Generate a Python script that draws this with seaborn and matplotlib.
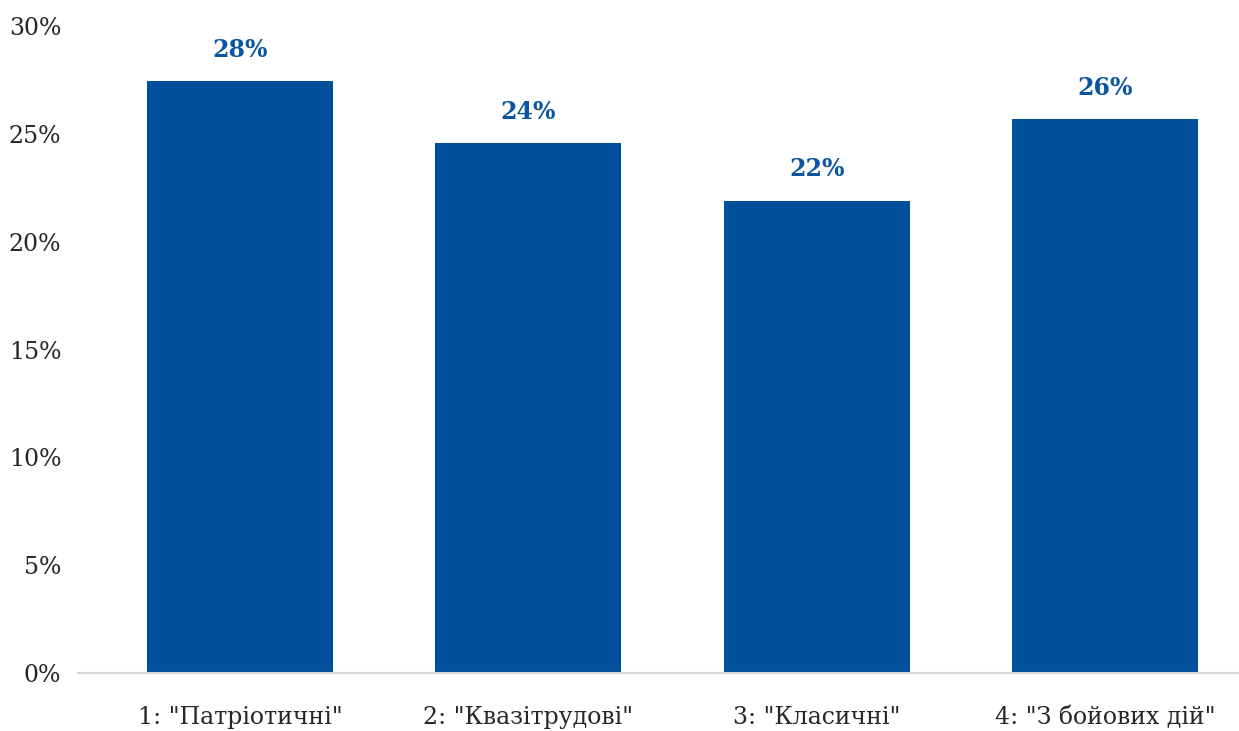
import matplotlib
matplotlib.use("Agg")
import matplotlib.pyplot as plt
import seaborn as sns
import pandas as pd
from matplotlib.ticker import FuncFormatter

categories = ['1: "Патріотичні"', '2: "Квазітрудові"', '3: "Класичні"', '4: "З бойових дій"']
values = [27.45, 24.57, 21.89, 25.69]
value_labels = ["28%", "24%", "22%", "26%"]
yticks = [0, 5, 10, 15, 20, 25, 30]

sns.set_theme(style="white")
plt.rcParams['font.family'] = ['DejaVu Serif', 'DejaVu Sans']

df = pd.DataFrame({"cat": categories, "val": values})

fig = plt.figure(figsize=(12.39, 7.31), dpi=100)
ax = fig.add_axes([78 / 1239, 1 - 673 / 731, 1 - 78 / 1239, (673 - 26) / 731])

bar_color = "#00509B"
sns.barplot(data=df, x="cat", y="val", color=bar_color, width=0.645, ax=ax,
            saturation=1, edgecolor="none")

ax.set_xlim(-0.562, 3.465)
ax.set_ylim(0, 30)
ax.set_yticks(yticks)
ax.yaxis.set_major_formatter(FuncFormatter(lambda v, p: f"{v:.0f}%"))
ax.set_xlabel("")
ax.set_ylabel("")
ax.tick_params(axis="y", length=0, pad=12, labelsize=17, labelcolor="#262626")
ax.tick_params(axis="x", length=0, pad=24, labelsize=17, labelcolor="#262626")
for s in ["top", "right", "left"]:
    ax.spines[s].set_visible(False)
ax.spines["bottom"].set_color("#D9D9D9")
ax.spines["bottom"].set_linewidth(1.5)
ax.grid(False)

for i, (v, lab) in enumerate(zip(values, value_labels)):
    ax.annotate(lab, (i, v), xytext=(0, 14), textcoords="offset points",
                ha="center", va="bottom", fontsize=17, fontweight="bold",
                color="#0A55A0", annotation_clip=False)

fig.savefig("out.png", dpi=100)
